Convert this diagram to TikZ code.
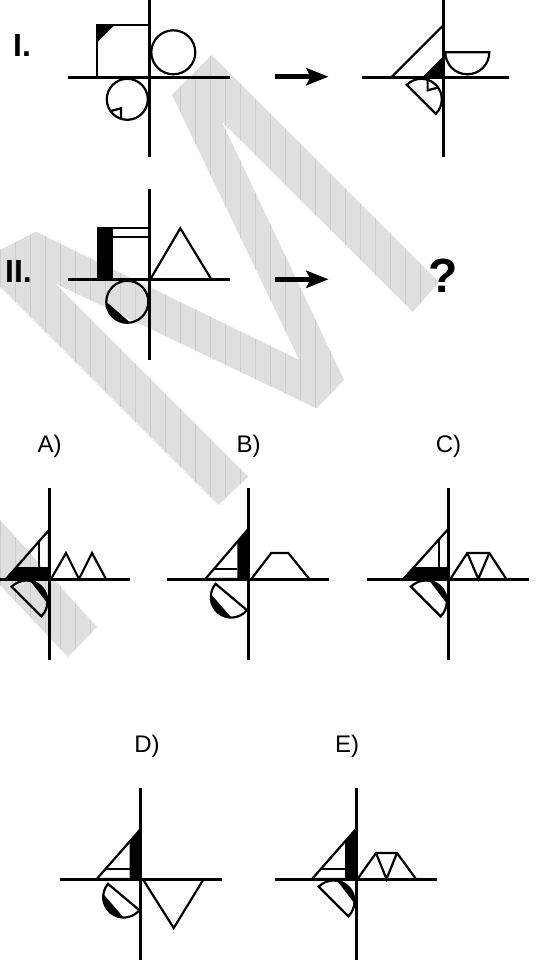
\documentclass[tikz,border=0pt]{standalone}
\usepackage{fontspec}
\setmainfont{Liberation Sans}
\usetikzlibrary{arrows.meta}

\begin{document}
\begin{tikzpicture}[x=1pt,y=-1pt,
  axis/.style={line width=3pt},
  outl/.style={line width=2.2pt},
  blk/.style={fill=black},
  wmark/.style={fill=gray!25},
  romnum/.style={font=\fontsize{32}{32}\selectfont\bfseries,anchor=base west,inner sep=0pt},
  lbl/.style={font=\fontsize{24}{24}\selectfont,anchor=base,inner sep=0pt},
  arr/.style={line width=5pt,-{Stealth[length=22pt,width=17pt,inset=4pt]}}]
  \clip (0,0) rectangle (539,961);
  % filigrane
  \def\wmA{(211.6,55) -- (439,282) -- (412.8,312) -- (221.9,121.7) -- (344,380) -- (316.5,408.3)
    -- (55,283.3) -- (248.3,476.7) -- (218.3,505) -- (0,286.7) -- (0,250) -- (36,231.7)
    -- (299.3,360) -- (172,95) -- cycle}
  \def\wmB{(0,520) -- (97,627) -- (68,657) -- (0,585) -- cycle}
  \fill[wmark] \wmA; \fill[wmark] \wmB;
  \begin{scope}
    \clip \wmA \wmB;
    \draw[gray!40,line width=0.6pt,step=15,yshift=2pt] (0,-15) grid (539,961);
  \end{scope}
  % I, gauche
  \begin{scope}[shift={(149.3,77.3)}]
    \draw[axis] (-81,0) -- (81,0); \draw[axis] (0,-78) -- (0,80);
    \draw[outl] (-52,0) rectangle (0,-52);
    \fill[blk] (-52,-52) -- (-35,-52) -- (-52,-35) -- cycle;
    \draw[outl] (24,-25) circle[radius=22];
    \draw[outl] (-22,22) circle[radius=20.5];
    \draw[outl] (-38.8,33.8) -- (-28.3,31) -- (-28.3,41.5);
  \end{scope}
  % I, droite
  \begin{scope}[shift={(443.3,77.3)}]
    \draw[axis] (-81,0) -- (66,0); \draw[axis] (0,-78) -- (0,80);
    \draw[outl] (-52,0) -- (0,-52) -- (0,0) -- cycle;
    \fill[blk] (-21,0) -- (0,-21) -- (0,0) -- cycle;
    \draw[outl] (2,-25) -- (46,-25) arc[start angle=0,end angle=180,radius=22] -- cycle;
    \draw[outl] (-7.5,36.5) arc[start angle=45,end angle=-135,radius=20.5] -- cycle;
    \draw[outl] (-5.2,10.2) -- (-15.7,13) -- (-15.7,2.5);
  \end{scope}
  % II, gauche
  \begin{scope}[shift={(149.3,279.3)}]
    \draw[axis] (-81,0) -- (81,0); \draw[axis] (0,-90) -- (0,81);
    \fill[blk] (-52,-52) rectangle (-36,0);
    \draw[outl] (-36,-51) -- (0,-51); \draw[outl] (-36,-42) -- (0,-42);
    \draw[outl] (1,0) -- (31,-51) -- (62,0);
    \draw[outl] (-22,22.5) circle[radius=21];
    \fill[blk] (-22,22.5) ++(82:21) arc[start angle=82,end angle=180,radius=21] -- cycle;
  \end{scope}
  % fleches
  \coordinate (f1a) at (275,76.7); \coordinate (f1b) at (328.5,76.7);
  \coordinate (f2a) at (275,279.3); \coordinate (f2b) at (328.5,279.3);
  \draw[arr] (f1a) -- (f1b);
  \draw[arr] (f2a) -- (f2b);
  \node[romnum] (n1) at (13,56) {I.};
  \node[romnum] (n2) at (5,282) {II.};
  \node[font=\fontsize{48}{48}\selectfont\bfseries,anchor=base west,inner sep=0pt] (q) at (428,292.5) {?};
  % reponses
  \node[lbl] (la) at (49.5,452) {A)};
  \node[lbl] (lb) at (248.5,452) {B)};
  \node[lbl] (lc) at (448.5,452) {C)};
  \node[lbl] (ld) at (147,752) {D)};
  \node[lbl] (le) at (347,752) {E)};
  % A
  \begin{scope}[shift={(49,579)}]
    \draw[axis] (-81,0) -- (81,0); \draw[axis] (0,-91) -- (0,81);
    \fill[blk] (-43,0) -- (0,0) -- (0,-12) -- (-32.5,-12) -- cycle;
    \draw[outl] (-43,0) -- (0,-49) -- (0,0) -- cycle;
    \draw[outl] (-9.7,-37.9) -- (-9.7,-12);
    \draw[outl] (-7.65,37.35) arc[start angle=45,end angle=-135,radius=21] -- cycle;
    \fill[blk] (-22.5,22.5) ++(-80:21) arc[start angle=-80,end angle=5,radius=21] -- cycle;
    \draw[outl] (2,0) -- (17,-26) -- (30,0) -- (43,-26) -- (57,0);
  \end{scope}
  % B
  \begin{scope}[shift={(248.3,579)}]
    \draw[axis] (-81,0) -- (81,0); \draw[axis] (0,-91) -- (0,81);
    \fill[blk] (-11,0) -- (0,0) -- (0,-50) -- (-11,-37.2) -- cycle;
    \draw[outl] (-43,0) -- (0,-50) -- (0,0) -- cycle;
    \draw[outl] (-34.7,-9.7) -- (-11,-9.7);
    \draw[outl] (-1.3,31.2) arc[start angle=40,end angle=220,radius=20.5] -- cycle;
    \fill[blk] (-17,18) ++(90:20.5) arc[start angle=90,end angle=188,radius=20.5] -- cycle;
    \draw[outl] (3,0) -- (23,-26) -- (40,-26) -- (61,0);
  \end{scope}
  % C
  \begin{scope}[shift={(448.3,579)}]
    \draw[axis] (-81,0) -- (81,0); \draw[axis] (0,-91) -- (0,81);
    \fill[blk] (-45,0) -- (0,0) -- (0,-12) -- (-34.2,-12) -- cycle;
    \draw[outl] (-45,0) -- (0,-50) -- (0,0) -- cycle;
    \draw[outl] (-9,-40) -- (-9,-12);
    \draw[outl] (-7.65,37.35) arc[start angle=45,end angle=-135,radius=21] -- cycle;
    \fill[blk] (-22.5,22.5) ++(-80:21) arc[start angle=-80,end angle=5,radius=21] -- cycle;
    \draw[outl] (2,0) -- (19,-26) -- (41,-26) -- (58,0);
    \draw[outl] (19,-26) -- (30,0) -- (41,-26);
  \end{scope}
  % D
  \begin{scope}[shift={(140.7,879)}]
    \draw[axis] (-81,0) -- (81,0); \draw[axis] (0,-91) -- (0,81);
    \fill[blk] (-11,0) -- (0,0) -- (0,-50) -- (-11,-37.5) -- cycle;
    \draw[outl] (-44,0) -- (0,-50) -- (0,0) -- cycle;
    \draw[outl] (-35.5,-9.7) -- (-11,-9.7);
    \draw[outl] (-1.3,31.2) arc[start angle=40,end angle=220,radius=20.5] -- cycle;
    \fill[blk] (-17,18) ++(90:20.5) arc[start angle=90,end angle=188,radius=20.5] -- cycle;
    \draw[outl] (2,0) -- (33,49) -- (63,0);
  \end{scope}
  % E
  \begin{scope}[shift={(356,879)}]
    \draw[axis] (-81,0) -- (81,0); \draw[axis] (0,-91) -- (0,81);
    \fill[blk] (-11,0) -- (0,0) -- (0,-50) -- (-11,-37.5) -- cycle;
    \draw[outl] (-44,0) -- (0,-50) -- (0,0) -- cycle;
    \draw[outl] (-35.5,-9.7) -- (-11,-9.7);
    \draw[outl] (-7.65,37.35) arc[start angle=45,end angle=-135,radius=21] -- cycle;
    \fill[blk] (-22.5,22.5) ++(-80:21) arc[start angle=-80,end angle=5,radius=21] -- cycle;
    \draw[outl] (1.5,0) -- (20,-26) -- (41,-26) -- (60,0);
    \draw[outl] (20,-26) -- (30.5,0) -- (41,-26);
  \end{scope}
\end{tikzpicture}
\end{document}
